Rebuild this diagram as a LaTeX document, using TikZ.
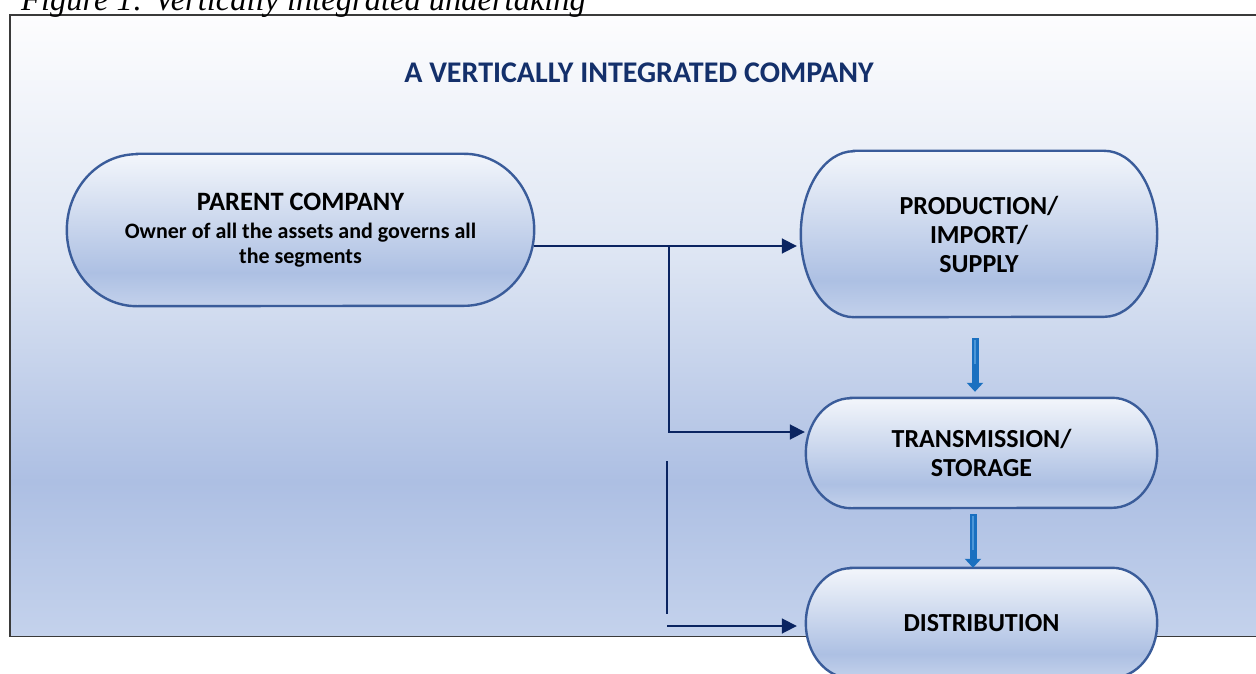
\documentclass[tikz,border=0pt]{standalone}
\usepackage{fontspec}
\setmainfont{Carlito}
\newfontfamily\figcapfont{Liberation Serif}
\usetikzlibrary{arrows.meta}

% colours
\definecolor{navyline}{HTML}{0A2461}
\definecolor{titlenavy}{HTML}{14306B}
\definecolor{stageedge}{HTML}{3A5C9A}
\definecolor{flowblue}{HTML}{1A70C0}
\definecolor{flowbluelight}{HTML}{4C97D8}
\definecolor{frameedge}{HTML}{3A3A3A}
\definecolor{bgA}{HTML}{C4D2EC}
\definecolor{bgB}{HTML}{ADBFE3}
\definecolor{bgC}{HTML}{DDE5F3}
\definecolor{bgD}{HTML}{FDFDFE}
\definecolor{stA}{HTML}{C3D1EB}
\definecolor{stB}{HTML}{ADC0E3}
\definecolor{stC}{HTML}{F3F6FB}

% panel and stage fills (the path box spans 25bp..75bp)
\pgfdeclareverticalshading{panelfill}{100bp}{color(0bp)=(bgA); color(25bp)=(bgA); color(37.5bp)=(bgB); color(55.5bp)=(bgC); color(75bp)=(bgD); color(100bp)=(bgD)}
\pgfdeclareverticalshading{stagefill}{100bp}{color(0bp)=(stA); color(25bp)=(stA); color(36bp)=(stB); color(75bp)=(stC); color(100bp)=(stC)}

\pgfdeclarelayer{back}
\pgfdeclarelayer{shapes}
\pgfsetlayers{back,shapes,main}

% outline of a stage: straight top and bottom, elliptical ends
\newcommand\stageoutline[3]{%
  \begin{pgfonlayer}{shapes}
    \path[stageshape] ([xshift=#2]#1.north west) -- ([xshift=-#2]#1.north east)
      arc[start angle=90, end angle=-90, x radius=#2, y radius=#3]
      -- ([xshift=#2]#1.south west)
      arc[start angle=270, end angle=90, x radius=#2, y radius=#3] -- cycle;
  \end{pgfonlayer}}

\tikzset{
  stagebox/.style={rectangle, draw=none, inner sep=0pt, align=center,
    font=\bfseries\fontsize{26}{29}\selectfont, text=black},
  stageshape/.style={draw=stageedge, line width=2.4pt, shade, shading=stagefill},
  panel/.style={draw=frameedge, line width=1.5pt, shade, shading=panelfill},
  linkarrow/.style={draw=navyline, line width=1.8pt, -{Triangle[length=15pt, width=15pt]}},
  linkline/.style={draw=navyline, line width=1.6pt},
  flowarrow/.style={draw=flowblue, line width=7pt, -{Triangle[length=9pt, width=16pt]}},
  flowcore/.style={draw=flowbluelight, line width=2pt},
}

\begin{document}
\begin{tikzpicture}[x=1pt, y=1pt]
  \useasboundingbox (0,0) rectangle (1256,-674);
  \clip (0,0) rectangle (1256,-674);

  % caption above the panel
  \node[anchor=base west, inner sep=0pt, font=\figcapfont\itshape\fontsize{32.5}{34}\selectfont]
    (caption) at (21,-11) {Figure 1: Vertically integrated undertaking};

  % panel
  \begin{pgfonlayer}{back}
    \path[panel] (10,-15) rectangle (1270,-636.5);
  \end{pgfonlayer}

  \node[font=\bfseries\fontsize{30}{34}\selectfont, text=titlenavy] (title) at (639,-73)
    {A VERTICALLY INTEGRATED COMPANY};

  % stages
  \node[stagebox, minimum width=467pt, minimum height=152pt] (parent) at (300.5,-230)
    {{\fontsize{26.5}{28}\selectfont PARENT COMPANY}\\[-1.5pt]
     {\fontsize{22}{25}\selectfont Owner of all the assets and governs all}\\[-4pt]
     {\fontsize{22}{25}\selectfont the segments}};
  \node[stagebox, minimum width=356pt, minimum height=166pt] (prod) at (979,-234)
    {PRODUCTION/\\IMPORT/\\SUPPLY};
  \node[stagebox, minimum width=351pt, minimum height=110pt] (trans) at (981.5,-453)
    {TRANSMISSION/\\STORAGE};
  \node[stagebox, minimum width=351pt, minimum height=110pt] (dist) at (981.5,-623)
    {DISTRIBUTION};

  \stageoutline{parent}{70}{76}
  \stageoutline{prod}{53}{83}
  \stageoutline{trans}{45}{55}
  \stageoutline{dist}{45}{55}

  % ownership links
  \coordinate (split) at (669,-246);
  \coordinate (sideTop) at (667,-461);
  \coordinate (sideBot) at (667,-614);
  \coordinate (sideIn) at (667,-626);
  \draw[linkarrow] ([yshift=-16]parent.east) -- ([xshift=-4,yshift=-12]prod.west);
  \draw[linkarrow] (split) |- ([xshift=-1,yshift=21]trans.west);
  \draw[linkline] (sideTop) -- (sideBot);
  \draw[linkarrow] (sideIn) -- ([xshift=-9,yshift=-3]dist.west);

  % supply chain flow
  \draw[flowarrow] ([xshift=-4,yshift=-21]prod.south) -- ([xshift=-6.5,yshift=6]trans.north);
  \draw[flowcore] ([xshift=-4,yshift=-23]prod.south) -- ([xshift=-4,yshift=-47]prod.south);
  \draw[flowarrow] ([xshift=-8.5,yshift=-6]trans.south) -- ([xshift=-8.5,yshift=0]dist.north);
  \draw[flowcore] ([xshift=-8.5,yshift=-8]trans.south) -- ([xshift=-8.5,yshift=-42]trans.south);
\end{tikzpicture}
\end{document}
